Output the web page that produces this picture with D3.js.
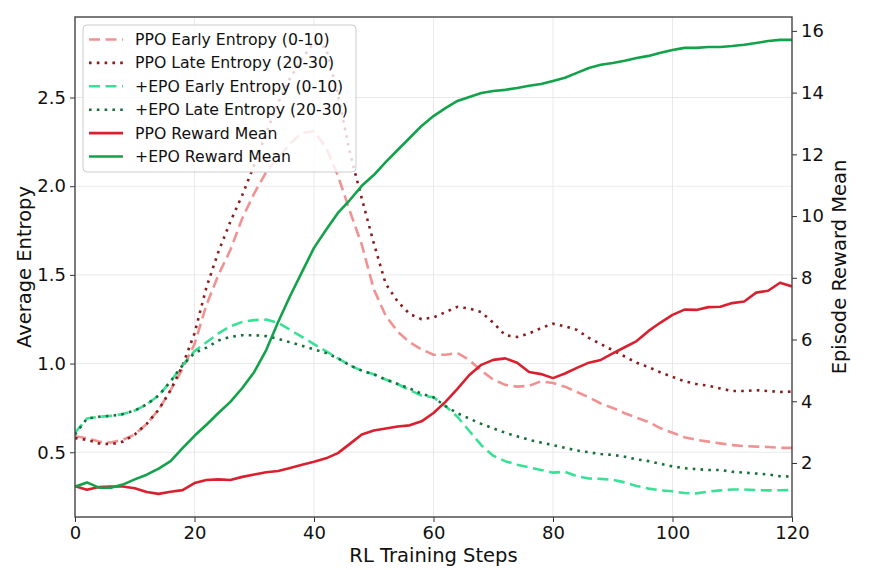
<!DOCTYPE html>
<html>
<head>
<meta charset="utf-8">
<script src="https://cdn.jsdelivr.net/npm/d3@7"></script>
<style>
  html, body { margin: 0; padding: 0; background: #fff; }
  svg { display: block; font-family: "DejaVu Sans", sans-serif; }
</style>
</head>
<body>
<svg id="chart" width="870" height="570"></svg>
<script>
// ---------------- data ----------------
const steps = [0,2,4,6,8,10,12,14,16,18,20,22,24,26,28,30,32,34,36,38,40,42,44,46,48,50,52,54,56,58,60,62,64,66,68,70,72,74,76,78,80,82,84,86,88,90,92,94,96,98,100,102,104,106,108,110,112,114,116,118,120];

const ppoEarly = [0.59,0.58,0.56,0.555,0.57,0.60,0.66,0.74,0.85,0.97,1.11,1.33,1.50,1.64,1.82,1.96,2.08,2.16,2.24,2.30,2.31,2.22,2.06,1.86,1.67,1.42,1.27,1.18,1.12,1.08,1.05,1.05,1.06,1.02,0.96,0.91,0.88,0.87,0.875,0.90,0.89,0.87,0.84,0.81,0.775,0.75,0.72,0.695,0.67,0.635,0.61,0.585,0.57,0.56,0.55,0.54,0.535,0.532,0.53,0.525,0.525];

const ppoLate = [0.58,0.57,0.55,0.545,0.56,0.60,0.66,0.74,0.85,0.99,1.17,1.43,1.63,1.80,1.95,2.12,2.30,2.47,2.61,2.72,2.81,2.78,2.52,2.19,1.93,1.68,1.45,1.35,1.28,1.25,1.26,1.29,1.32,1.31,1.29,1.23,1.16,1.15,1.17,1.20,1.225,1.21,1.19,1.145,1.11,1.075,1.04,1.005,0.98,0.95,0.925,0.90,0.885,0.875,0.86,0.845,0.845,0.85,0.845,0.84,0.842];

const epoEarly = [0.61,0.69,0.70,0.705,0.715,0.735,0.77,0.82,0.90,0.99,1.07,1.12,1.17,1.21,1.235,1.245,1.248,1.23,1.19,1.15,1.11,1.07,1.03,0.99,0.96,0.94,0.91,0.885,0.85,0.82,0.81,0.76,0.70,0.62,0.54,0.48,0.45,0.43,0.415,0.40,0.385,0.39,0.365,0.352,0.35,0.345,0.33,0.31,0.295,0.285,0.28,0.27,0.268,0.278,0.285,0.29,0.29,0.287,0.285,0.286,0.287];

const epoLate = [0.60,0.69,0.70,0.705,0.715,0.735,0.77,0.82,0.90,0.99,1.06,1.09,1.13,1.15,1.16,1.16,1.155,1.14,1.12,1.10,1.08,1.06,1.03,0.99,0.96,0.94,0.91,0.885,0.86,0.83,0.81,0.76,0.72,0.69,0.66,0.635,0.61,0.59,0.57,0.555,0.54,0.525,0.51,0.50,0.49,0.485,0.475,0.46,0.45,0.435,0.42,0.41,0.405,0.40,0.40,0.39,0.385,0.38,0.375,0.365,0.363];

const ppoReward = [1.25,1.13,1.22,1.24,1.24,1.18,1.06,1.00,1.07,1.12,1.35,1.45,1.47,1.45,1.55,1.63,1.70,1.74,1.84,1.94,2.04,2.15,2.32,2.62,2.92,3.05,3.12,3.18,3.22,3.35,3.62,3.98,4.40,4.85,5.18,5.34,5.39,5.25,4.95,4.88,4.75,4.90,5.08,5.25,5.34,5.55,5.75,5.95,6.28,6.55,6.80,6.97,6.96,7.05,7.06,7.18,7.23,7.52,7.58,7.84,7.72];

const epoReward = [1.23,1.37,1.20,1.20,1.30,1.47,1.62,1.82,2.06,2.48,2.88,3.24,3.62,3.98,4.43,4.95,5.66,6.57,7.41,8.19,8.97,9.55,10.10,10.52,10.98,11.33,11.75,12.14,12.53,12.92,13.24,13.50,13.73,13.86,13.99,14.05,14.09,14.15,14.22,14.28,14.38,14.48,14.64,14.80,14.90,14.96,15.03,15.12,15.19,15.29,15.38,15.45,15.45,15.48,15.48,15.51,15.55,15.61,15.67,15.71,15.71];

const xTicks = [0,20,40,60,80,100,120];
const leftTicks = [0.5,1.0,1.5,2.0,2.5];
const rightTicks = [2,4,6,8,10,12,14,16];

const seriesLabels = ["PPO Early Entropy (0-10)","PPO Late Entropy (20-30)","+EPO Early Entropy (0-10)","+EPO Late Entropy (20-30)","PPO Reward Mean","+EPO Reward Mean"];

// ---------------- layout ----------------
const W = 870, H = 570;
const m = {left: 75, top: 17, right: 78, bottom: 53};
const pw = W - m.left - m.right, ph = H - m.top - m.bottom;

const svg = d3.select("#chart");
const g = svg.append("g").attr("transform", `translate(${m.left},${m.top})`);

const x = d3.scaleLinear().domain([0,120]).range([0,pw]);
const yL = d3.scaleLinear().domain([0.135,2.954]).range([ph,0]);
const yR = d3.scaleLinear().domain([0.25,16.45]).range([ph,0]);

// grid
g.append("g").selectAll("line").data(xTicks.slice(1,-1)).join("line")
  .attr("x1", d=>x(d)).attr("x2", d=>x(d)).attr("y1",0).attr("y2",ph)
  .attr("stroke","#e6e6e6").attr("stroke-width",0.9);
g.append("g").selectAll("line").data(leftTicks).join("line")
  .attr("x1",0).attr("x2",pw).attr("y1", d=>yL(d)).attr("y2", d=>yL(d))
  .attr("stroke","#e6e6e6").attr("stroke-width",0.9);

const clip = svg.append("defs").append("clipPath").attr("id","clip")
  .append("rect").attr("x",0).attr("y",0).attr("width",pw).attr("height",ph);

const lines = g.append("g").attr("clip-path","url(#clip)");

function mk(scale){ return d3.line().x((d,i)=>x(steps[i])).y(d=>scale(d)); }

const styles = [
  {data: ppoEarly, scale: yL, color: "#ee7f7f", dash: "11,5.5", w: 2.6, op: 0.85},
  {data: ppoLate, scale: yL, color: "#8a1c1c", dash: "2.6,5.2", w: 2.6, op: 1},
  {data: epoEarly, scale: yL, color: "#26dd8c", dash: "11,5.5", w: 2.6, op: 0.9},
  {data: epoLate, scale: yL, color: "#17703a", dash: "2.6,5.2", w: 2.6, op: 1},
  {data: ppoReward, scale: yR, color: "#d9202f", dash: null, w: 2.6, op: 1},
  {data: epoReward, scale: yR, color: "#12a24a", dash: null, w: 2.6, op: 1}
];

styles.forEach(s => {
  lines.append("path").datum(s.data)
    .attr("d", mk(s.scale))
    .attr("fill","none").attr("stroke", s.color).attr("stroke-width", s.w)
    .attr("stroke-opacity", s.op)
    .attr("stroke-dasharray", s.dash)
    .attr("stroke-linejoin","round");
});

// axes
const tickFont = 18;
const axB = g.append("g").attr("transform",`translate(0,${ph})`)
  .call(d3.axisBottom(x).tickValues(xTicks).tickSize(5).tickPadding(4).tickFormat(d3.format("d")));
const axL = g.append("g")
  .call(d3.axisLeft(yL).tickValues(leftTicks).tickSize(5).tickPadding(4).tickFormat(d3.format(".1f")));
const axR = g.append("g").attr("transform",`translate(${pw},0)`)
  .call(d3.axisRight(yR).tickValues(rightTicks).tickSize(5).tickPadding(4).tickFormat(d3.format("d")));
[axB, axL, axR].forEach(a => {
  a.select(".domain").remove();
  a.selectAll("line").attr("stroke","#333").attr("stroke-width",1);
  a.selectAll("text").attr("font-size", tickFont).attr("fill","#111")
   .attr("font-family","DejaVu Sans, sans-serif");
});

// frame
g.append("rect").attr("x",0).attr("y",0).attr("width",pw).attr("height",ph)
  .attr("fill","none").attr("stroke","#444").attr("stroke-width",1.4);

// axis labels
const labFont = 19.5;
svg.append("text").attr("x", m.left + pw/2).attr("y", 562)
  .attr("text-anchor","middle").attr("font-size", labFont).attr("fill","#111")
  .text("RL Training Steps");
svg.append("text").attr("transform",`translate(31,${m.top + ph/2}) rotate(-90)`)
  .attr("text-anchor","middle").attr("font-size", labFont).attr("fill","#111")
  .text("Average Entropy");
svg.append("text").attr("transform",`translate(846,${m.top + ph/2}) rotate(-90)`)
  .attr("text-anchor","middle").attr("font-size", labFont).attr("fill","#111")
  .text("Episode Reward Mean");

// legend
const lg = svg.append("g").attr("transform","translate(83,25)");
lg.append("rect").attr("x",0).attr("y",0).attr("width",273).attr("height",147)
  .attr("rx",4).attr("fill","#fff").attr("fill-opacity",0.8)
  .attr("stroke","#cccccc").attr("stroke-width",1);
seriesLabels.forEach((lab,i) => {
  const s = styles[i];
  const cy = 14.5 + i*23.4;
  lg.append("line").attr("x1",6).attr("x2",40).attr("y1",cy).attr("y2",cy)
    .attr("stroke", s.color).attr("stroke-width", s.w).attr("stroke-opacity", s.op)
    .attr("stroke-dasharray", s.dash);
  lg.append("text").attr("x",52).attr("y",cy).attr("dy","0.35em")
    .attr("font-size",15.7).attr("fill","#111").text(lab);
});
</script>
</body>
</html>
